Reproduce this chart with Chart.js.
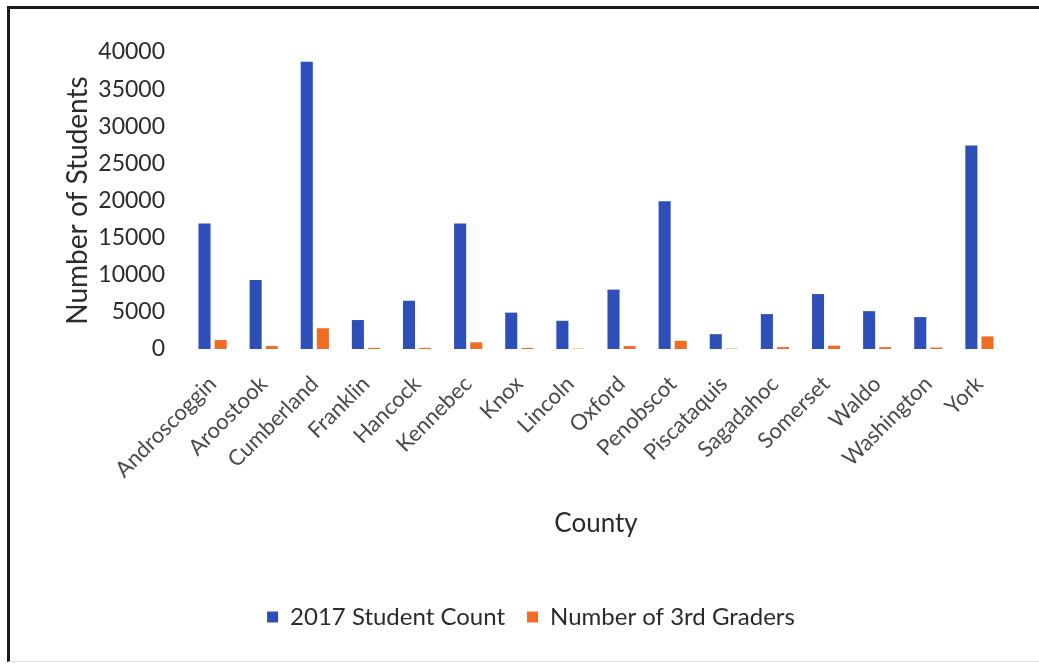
<!DOCTYPE html>
<html>
<head>
<meta charset="utf-8">
<script src="https://cdn.jsdelivr.net/npm/chart.js@4"></script>
<style>
  html, body { margin: 0; padding: 0; background: #fff; }
  #wrap { position: relative; width: 1039px; height: 667px; }
  #frame { position: absolute; left: 7px; top: 6px; width: 1032px; height: 656px;
           border-left: 3px solid #1a1a1a; border-top: 3px solid #1a1a1a; border-bottom: 1px solid #e0e0e0; box-sizing: border-box; pointer-events: none; }
  canvas { position: absolute; left: 0; top: 0; }
</style>
</head>
<body>
<div id="wrap">
  <canvas id="c" width="1039" height="667"></canvas>
  <div id="frame"></div>
</div>
<script>
const counties = ["Androscoggin","Aroostook","Cumberland","Franklin","Hancock","Kennebec","Knox","Lincoln","Oxford","Penobscot","Piscataquis","Sagadahoc","Somerset","Waldo","Washington","York"];
const studentCount2017 = [16900, 9300, 38700, 3900, 6500, 16900, 4900, 3800, 8000, 19900, 2000, 4700, 7400, 5100, 4300, 27400];
const thirdGraders = [1200, 400, 2800, 150, 150, 900, 150, 50, 400, 1100, 50, 250, 450, 250, 200, 1700];
const yTicks = [0, 5000, 10000, 15000, 20000, 25000, 30000, 35000, 40000];
const seriesNames = ["2017 Student Count", "Number of 3rd Graders"];

const FONT = "Lato, 'Open Sans', sans-serif";
const TXT = "#2b2b2b";

new Chart(document.getElementById("c"), {
  type: "bar",
  data: {
    labels: counties,
    datasets: [
      { label: seriesNames[0], data: studentCount2017, backgroundColor: "#2f4fb8", categoryPercentage: 0.63, barPercentage: 0.75 },
      { label: seriesNames[1], data: thirdGraders, backgroundColor: "#f06c22", categoryPercentage: 0.63, barPercentage: 0.75 }
    ]
  },
  options: {
    responsive: false,
    animation: false,
    layout: { padding: { left: 57, right: 34, top: 52, bottom: 28 } },
    plugins: {
      tooltip: { enabled: false },
      legend: {
        position: "bottom",
        labels: { boxWidth: 11, boxHeight: 11, padding: 22, color: TXT, font: { family: FONT, size: 24 } }
      }
    },
    scales: {
      x: {
        grid: { display: false, drawTicks: false },
        border: { display: false },
        ticks: { color: "#4a4a4a", font: { family: FONT, size: 22 }, minRotation: 45, maxRotation: 45, padding: 22, autoSkip: false },
        title: { display: true, text: "County", color: TXT, font: { family: FONT, size: 26 }, padding: { top: 4, bottom: 44 } },
        afterFit: (s) => { s.height = 234; }
      },
      y: {
        min: 0, max: 40000,
        grid: { display: false, drawTicks: false },
        border: { display: false },
        afterBuildTicks: (s) => { s.ticks = yTicks.map(v => ({ value: v })); },
        ticks: { color: TXT, font: { family: FONT, size: 23 }, padding: 22, callback: (v) => String(v) },
        title: { display: true, text: "Number of Students", color: TXT, font: { family: FONT, size: 28 } },
        afterFit: (s) => { s.width = 130; }
      }
    }
  }
});
</script>
</body>
</html>
